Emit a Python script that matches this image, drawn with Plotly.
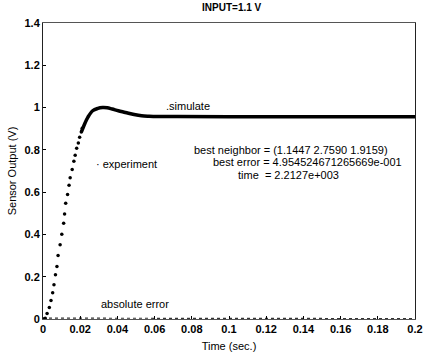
import plotly.graph_objects as go

# Experiment samples (dots)
t_exp = [0.0, 0.0012, 0.0022, 0.0034, 0.0043, 0.0052, 0.0059, 0.0067, 0.0075, 0.0081,
         0.0092, 0.0101, 0.0111, 0.0116, 0.0122, 0.0132, 0.0140, 0.0146, 0.0157,
         0.0166, 0.0173, 0.0181, 0.0190, 0.0197, 0.0206, 0.0211]
y_exp = [0.0, 0.004, 0.026, 0.054, 0.087, 0.124, 0.162, 0.209, 0.248, 0.300,
         0.351, 0.401, 0.453, 0.497, 0.547, 0.589, 0.633, 0.668, 0.707,
         0.746, 0.774, 0.808, 0.833, 0.860, 0.884, 0.902]

# Simulated response (solid curve)
t_sim = [0.0206, 0.0225, 0.0241, 0.0267, 0.0295, 0.0320, 0.0345, 0.0372, 0.0405,
         0.0443, 0.0490, 0.0530, 0.0570, 0.0618, 0.0723, 0.1000, 0.1500, 0.2000]
y_sim = [0.884, 0.925, 0.954, 0.985, 0.996, 1.000, 0.999, 0.993, 0.985,
         0.977, 0.967, 0.961, 0.959, 0.958, 0.958, 0.957, 0.957, 0.957]

# Absolute error (near zero)
t_err = [0.0, 0.006, 0.02, 0.05, 0.08, 0.11, 0.14, 0.17, 0.2]
y_err = [0.004, 0.004, 0.002, 0.002, 0.002, 0.002, 0.002, 0.002, 0.002]

x_ticks = [0, 0.02, 0.04, 0.06, 0.08, 0.1, 0.12, 0.14, 0.16, 0.18, 0.2]
x_labels = ["0", "0.02", "0.04", "0.06", "0.08", "0.1", "0.12", "0.14", "0.16", "0.18", "0.2"]
y_ticks = [0, 0.2, 0.4, 0.6, 0.8, 1, 1.2, 1.4]
y_labels = ["0", "0.2", "0.4", "0.6", "0.8", "1", "1.2", "1.4"]

FONT = "Liberation Sans, Arial, sans-serif"

fig = go.Figure()
fig.add_trace(go.Scatter(x=t_err, y=y_err, mode="lines",
                         line=dict(color="#333333", width=1.2, dash="dot"),
                         showlegend=False, hoverinfo="skip"))
fig.add_trace(go.Scatter(x=t_sim, y=y_sim, mode="lines",
                         line=dict(color="black", width=3.5, shape="spline"),
                         showlegend=False))
fig.add_trace(go.Scatter(x=t_exp, y=y_exp, mode="markers",
                         marker=dict(color="black", size=3.5),
                         showlegend=False))

tf = dict(family=FONT, size=11, color="black")
ann = [
    dict(x=0.0653, y=1.008, text=".simulate"),
    dict(x=0.0274, y=0.732, text="\u00b7 experiment"),
    dict(x=0.0800, y=0.798, text="best neighbor = (1.1447 2.7590 1.9159)"),
    dict(x=0.0905, y=0.742, text="best error = 4.954524671265669e-001"),
    dict(x=0.1037, y=0.683, text="time  = 2.2127e+003"),
    dict(x=0.0300, y=0.069, text="absolute error"),
]
annotations = [dict(xref="x", yref="y", showarrow=False, xanchor="left",
                    yanchor="middle", font=tf, **a) for a in ann]

fig.update_layout(
    width=433, height=361,
    margin=dict(l=43, r=10, t=23, b=39),
    paper_bgcolor="white", plot_bgcolor="white",
    title=dict(text="INPUT=1.1 V", x=0.535, xanchor="center", y=0.978, yanchor="middle",
               font=dict(family=FONT, size=10, color="black", weight="bold")),
    annotations=annotations,
    xaxis=dict(range=[0, 0.2], tickvals=x_ticks, ticktext=x_labels,
               showgrid=False, zeroline=False, showline=True, linecolor="#555555",
               linewidth=1, mirror=True, ticks="inside", ticklen=3, tickcolor="black",
               tickfont=dict(family=FONT, size=11, color="black", weight="bold"),
               title=dict(text="Time (sec.)", standoff=8,
                          font=dict(family=FONT, size=11, color="black"))),
    yaxis=dict(range=[0, 1.4], tickvals=y_ticks, ticktext=y_labels,
               showgrid=False, zeroline=False, showline=True, linecolor="#222222",
               linewidth=1, mirror=True, ticks="inside", ticklen=3, tickcolor="black",
               tickfont=dict(family=FONT, size=11, color="black", weight="bold"),
               title=dict(text="Sensor Output (V)", standoff=5,
                          font=dict(family=FONT, size=11, color="black"))),
)

fig.write_html("out.html")
